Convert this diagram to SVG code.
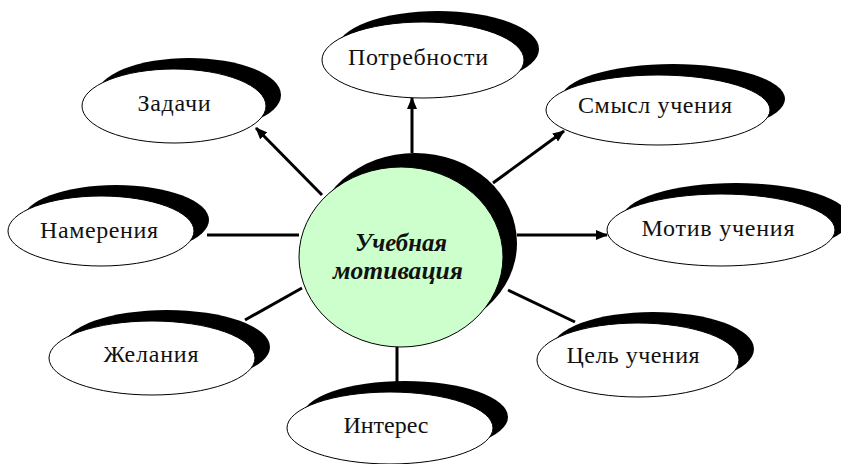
<svg xmlns="http://www.w3.org/2000/svg" width="841" height="464" viewBox="0 0 841 464">
<style>
.sh{fill:#000}
.el{fill:#fff;stroke:#000;stroke-width:1}
.ctr{fill:#ccffcc;stroke:#000;stroke-width:1}
.lbl{font-family:"Liberation Serif","Times New Roman",serif;font-size:24px;fill:#111;text-anchor:middle}
.ct{font-family:"Liberation Serif","Times New Roman",serif;font-size:25px;font-weight:bold;font-style:italic;fill:#111;text-anchor:middle}
.ln{stroke:#000;stroke-width:3;fill:none}
.ar{marker-end:url(#ah)}
</style>
<defs>
<marker id="ah" markerUnits="userSpaceOnUse" markerWidth="12" markerHeight="10" refX="11" refY="5" orient="auto">
<path d="M0,0 L12,5 L0,10 z" fill="#000"/>
</marker>
</defs>
<rect width="841" height="464" fill="#fff"/>
<g id="center">
<ellipse class="sh" cx="415" cy="243" rx="102" ry="90"/>
<ellipse class="ctr" cx="401" cy="257" rx="102" ry="90"/>
<text class="ct" x="401" y="251" textLength="92" lengthAdjust="spacingAndGlyphs">Учебная</text>
<text class="ct" x="398" y="279" textLength="130" lengthAdjust="spacingAndGlyphs">мотивация</text>
</g>
<g id="n-potrebnosti">
<ellipse class="sh" cx="438" cy="49" rx="101" ry="38"/>
<ellipse class="el" cx="423" cy="60" rx="101" ry="38"/>
<text class="lbl" x="418" y="65" textLength="140" lengthAdjust="spacing">Потребности</text>
</g>
<g id="n-zadachi">
<ellipse class="sh" cx="189" cy="95" rx="92" ry="37"/>
<ellipse class="el" cx="174" cy="106" rx="92" ry="37"/>
<text class="lbl" x="174" y="111" textLength="73" lengthAdjust="spacing">Задачи</text>
</g>
<g id="n-namereniya">
<ellipse class="sh" cx="116" cy="220" rx="93" ry="35"/>
<ellipse class="el" cx="101" cy="231" rx="93" ry="35"/>
<text class="lbl" x="99" y="238" textLength="118" lengthAdjust="spacing">Намерения</text>
</g>
<g id="n-smysl">
<ellipse class="sh" cx="673" cy="99" rx="112" ry="35"/>
<ellipse class="el" cx="658" cy="110" rx="112" ry="35"/>
<text class="lbl" x="655" y="113" textLength="154" lengthAdjust="spacing">Смысл учения</text>
</g>
<g id="n-motiv">
<ellipse class="sh" cx="736" cy="219" rx="114" ry="36"/>
<ellipse class="el" cx="721" cy="230" rx="114" ry="36"/>
<text class="lbl" x="718" y="236" textLength="153" lengthAdjust="spacing">Мотив учения</text>
</g>
<g id="n-zhelaniya">
<ellipse class="sh" cx="167" cy="347" rx="103" ry="37"/>
<ellipse class="el" cx="152" cy="358" rx="103" ry="37"/>
<text class="lbl" x="151" y="362" textLength="95" lengthAdjust="spacing">Желания</text>
</g>
<g id="n-tsel">
<ellipse class="sh" cx="653" cy="349" rx="101" ry="37"/>
<ellipse class="el" cx="638" cy="360" rx="101" ry="37"/>
<text class="lbl" x="633" y="363" textLength="133" lengthAdjust="spacing">Цель учения</text>
</g>
<g id="n-interes">
<ellipse class="sh" cx="405" cy="417" rx="103" ry="36"/>
<ellipse class="el" cx="390" cy="428" rx="103" ry="36"/>
<text class="lbl" x="386" y="433" textLength="85" lengthAdjust="spacing">Интерес</text>
</g>
<g id="connectors">
<line class="ln ar" x1="322" y1="195" x2="256" y2="128"/>
<line class="ln ar" x1="412" y1="153" x2="412" y2="98"/>
<line class="ln ar" x1="493" y1="183" x2="564" y2="131"/>
<line class="ln ar" x1="517" y1="235" x2="607" y2="235"/>
<line class="ln" x1="207" y1="235" x2="299" y2="235"/>
<line class="ln" x1="302" y1="288" x2="245" y2="320"/>
<line class="ln" x1="508" y1="290" x2="575" y2="322"/>
<line class="ln" x1="397" y1="347" x2="397" y2="383"/>
</g>
</svg>
